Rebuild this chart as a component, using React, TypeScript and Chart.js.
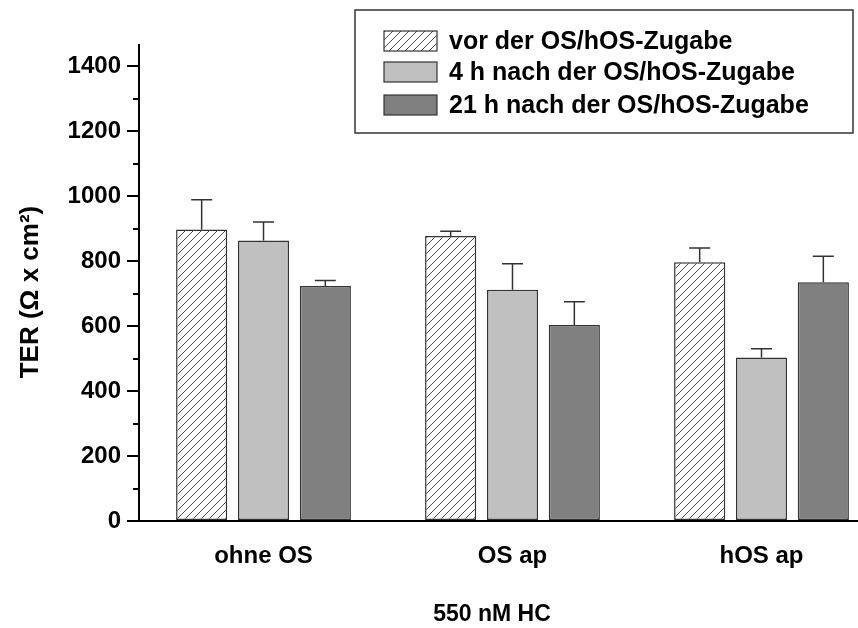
import React, { useEffect, useRef } from "react";
import { Chart, registerables } from "chart.js";

Chart.register(...registerables);

// ---- data ----
const categories = ["ohne OS", "OS ap", "hOS ap"];
const seriesNames = [
  "vor der OS/hOS-Zugabe",
  "4 h nach der OS/hOS-Zugabe",
  "21 h nach der OS/hOS-Zugabe",
];
const vorValues = [897, 877, 796];
const vorErrors = [92, 15, 44];
const h4Values = [863, 712, 503];
const h4Errors = [57, 80, 27];
const h21Values = [723, 603, 735];
const h21Errors = [17, 72, 80];
const yMin = 0;
const yMax = 1465;
const yStep = 200;
const yAxisTitle = "TER (Ω x cm²)";
const xAxisTitle = "550 nM HC";

const FONT = "'Liberation Sans', Arial, Helvetica, sans-serif";
const LIGHT = "#c0c0c0";
const DARK = "#808080";
const EDGE = "#333333";

function makeHatch(ctx: CanvasRenderingContext2D): CanvasPattern | string {
  const s = 8;
  const c = document.createElement("canvas");
  c.width = s;
  c.height = s;
  const t = c.getContext("2d");
  if (!t) return "#fff";
  t.fillStyle = "#ffffff";
  t.fillRect(0, 0, s, s);
  t.strokeStyle = "#4a4a4a";
  t.lineWidth = 1;
  t.beginPath();
  t.moveTo(0, s);
  t.lineTo(s, 0);
  t.moveTo(-2, 2);
  t.lineTo(2, -2);
  t.moveTo(s - 2, s + 2);
  t.lineTo(s + 2, s - 2);
  t.stroke();
  return ctx.createPattern(c, "repeat") || "#fff";
}

const errorBarPlugin = {
  id: "errorBars",
  afterDatasetsDraw(chart: any) {
    const ctx = chart.ctx;
    const y = chart.scales.y;
    chart.data.datasets.forEach((ds: any, i: number) => {
      const meta = chart.getDatasetMeta(i);
      meta.data.forEach((bar: any, j: number) => {
        const v = ds.data[j];
        const e = ds.errors[j];
        const top = y.getPixelForValue(v + e);
        ctx.save();
        ctx.strokeStyle = EDGE;
        ctx.lineWidth = 1.5;
        ctx.beginPath();
        ctx.moveTo(bar.x, bar.y);
        ctx.lineTo(bar.x, top);
        ctx.moveTo(bar.x - 10.5, top);
        ctx.lineTo(bar.x + 10.5, top);
        ctx.stroke();
        ctx.restore();
      });
    });
  },
};

const decorPlugin = {
  id: "decor",
  afterDraw(chart: any) {
    const ctx = chart.ctx;
    const y = chart.scales.y;
    const area = chart.chartArea;
    // minor ticks
    const ticks = y.ticks.map((t: any) => t.value);
    ctx.save();
    ctx.strokeStyle = "#000";
    ctx.lineWidth = 2;
    for (let i = 0; i < ticks.length; i++) {
      const mid = ticks[i] + yStep / 2;
      if (mid > yMax) continue;
      const py = Math.round(y.getPixelForValue(mid));
      ctx.beginPath();
      ctx.moveTo(area.left - 6, py);
      ctx.lineTo(area.left, py);
      ctx.stroke();
    }
    ctx.restore();

    // y title
    ctx.save();
    ctx.fillStyle = "#000";
    ctx.font = `bold 26px ${FONT}`;
    ctx.translate(38, 292);
    ctx.rotate(-Math.PI / 2);
    ctx.textAlign = "center";
    ctx.textBaseline = "alphabetic";
    ctx.fillText(yAxisTitle, 0, 0);
    ctx.restore();

    // x title
    ctx.save();
    ctx.fillStyle = "#000";
    ctx.font = `bold 23px ${FONT}`;
    ctx.textAlign = "center";
    ctx.textBaseline = "alphabetic";
    ctx.fillText(xAxisTitle, 492, 621);
    ctx.restore();

    // legend
    ctx.save();
    ctx.strokeStyle = EDGE;
    ctx.lineWidth = 1.5;
    ctx.fillStyle = "#fff";
    ctx.fillRect(355, 10, 498, 123);
    ctx.strokeRect(355, 10, 498, 123);
    const fills = chart.data.datasets.map((d: any) => d.backgroundColor);
    const tops = [31, 62, 95];
    seriesNames.forEach((name, i) => {
      ctx.fillStyle = fills[i];
      ctx.fillRect(384, tops[i], 53, 20);
      ctx.lineWidth = 1.2;
      ctx.strokeStyle = EDGE;
      ctx.strokeRect(384, tops[i], 53, 20);
      ctx.fillStyle = "#000";
      ctx.font = `bold 25px ${FONT}`;
      ctx.textAlign = "left";
      ctx.textBaseline = "middle";
      ctx.fillText(name, 449, tops[i] + 11);
    });
    ctx.restore();
  },
};

export default function App() {
  const ref = useRef<HTMLCanvasElement | null>(null);

  useEffect(() => {
    const canvas = ref.current;
    if (!canvas) return;
    const ctx = canvas.getContext("2d");
    if (!ctx) return;
    const hatch = makeHatch(ctx);
    const common = {
      borderColor: EDGE,
      borderWidth: 1.5,
      borderSkipped: false as any,
      categoryPercentage: 0.745,
      barPercentage: 0.827,
    };
    const chart = new Chart(canvas, {
      type: "bar",
      data: {
        labels: categories,
        datasets: [
          { label: seriesNames[0], data: vorValues, errors: vorErrors, backgroundColor: hatch, ...common } as any,
          { label: seriesNames[1], data: h4Values, errors: h4Errors, backgroundColor: LIGHT, ...common } as any,
          { label: seriesNames[2], data: h21Values, errors: h21Errors, backgroundColor: DARK, ...common } as any,
        ],
      },
      options: {
        animation: false,
        responsive: false,
        devicePixelRatio: 1,
        layout: { padding: { top: 45, left: 0, right: 0, bottom: 0 } },
        plugins: {
          legend: { display: false },
          tooltip: { enabled: false },
          title: { display: false },
        },
        scales: {
          x: {
            type: "category",
            offset: true,
            grid: { display: false },
            border: { display: true, color: "#000", width: 2 },
            ticks: {
              color: "#000",
              font: { family: FONT, size: 24, weight: "bold" },
              padding: 13,
              maxRotation: 0,
            },
            afterFit(scale: any) {
              scale.height = 107;
            },
          },
          y: {
            type: "linear",
            min: yMin,
            max: yMax,
            grid: {
              display: true,
              drawOnChartArea: false,
              drawTicks: true,
              tickLength: 12,
              tickWidth: 2,
              lineWidth: 2,
              tickColor: "#000",
              color: "#000",
            },
            border: { display: true, color: "#000", width: 2 },
            ticks: {
              stepSize: yStep,
              includeBounds: false,
              color: "#000",
              font: { family: FONT, size: 24, weight: "bold" },
              padding: 6,
              callback: (v: any) => String(v),
            },
            afterFit(scale: any) {
              scale.width = 139;
            },
          },
        },
      } as any,
      plugins: [errorBarPlugin, decorPlugin],
    });
    return () => chart.destroy();
  }, []);

  return (
    <div style={{ position: "absolute", left: 0, top: 0, width: 858, height: 628, overflow: "hidden", background: "#fff" }}>
      <canvas ref={ref} width={886} height={628} style={{ display: "block", width: 886, height: 628 }} />
    </div>
  );
}
